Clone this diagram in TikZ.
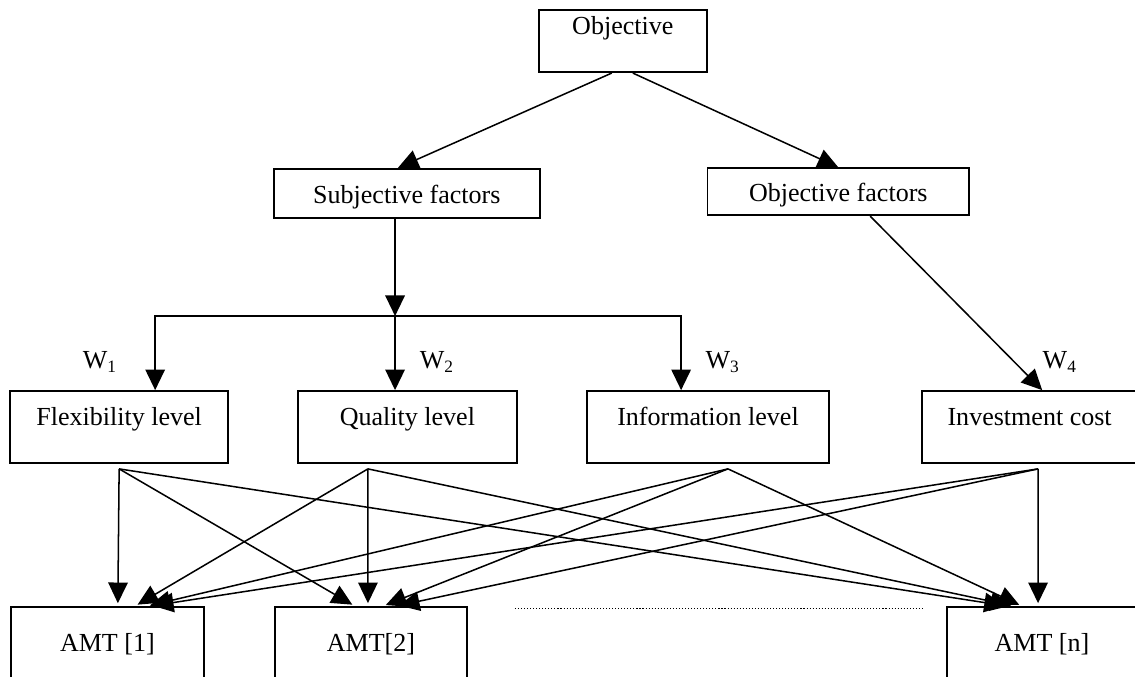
\documentclass[tikz,border=0pt]{standalone}
\usepackage{fontspec}
\setmainfont{Liberation Serif}
\usetikzlibrary{arrows.meta}

\begin{document}
\begin{tikzpicture}[
        >={Triangle[length=9.5pt, width=9pt]},
        box/.style={draw, line width=0.8pt, anchor=north, inner ysep=0pt,
                    font=\fontsize{12}{14}\selectfont},
        lvl/.style={box, text height=16.1pt, text depth=17.1pt},
        amt/.style={box, text height=20.3pt, text depth=23pt},
        wgt/.style={font=\fontsize{12}{14}\selectfont},
        arr/.style={->, line width=0.7pt},
        fan/.style={->, line width=0.7pt, shorten >=1.4pt},
        dots/.style={line width=0.5pt, dash pattern=on 0.5pt off 0.9pt}
      ]
        \useasboundingbox (0,0) rectangle (18.387,-10.967);

        \node[box, minimum width=2.72cm, text height=11.1pt, text depth=17.5pt]
          (objective) at (10.09,-0.15) {Objective};
        \node[box, minimum width=4.31cm, text height=16.1pt, text depth=6.5pt]
          (subjective) at (6.59,-2.72) {Subjective factors};
        \node[box, minimum width=4.24cm, text height=15.2pt, text depth=6.5pt]
          (objfactors) at (13.58,-2.71) {Objective factors};

        \node[lvl, minimum width=3.53cm] (flex) at (1.93,-6.32) {Flexibility level};
        \node[lvl, minimum width=3.55cm] (quality) at (6.60,-6.32) {Quality level};
        \node[lvl, minimum width=3.92cm] (info) at (11.47,-6.32) {Information level};
        \node[lvl, minimum width=3.48cm] (invest) at (16.68,-6.32) {Investment cost};

        \node[amt, minimum width=3.13cm] (amt1) at (1.74,-9.82) {AMT [1]};
        \node[amt, minimum width=3.11cm] (amt2) at (6.01,-9.82) {AMT[2]};
        \node[amt, minimum width=3.08cm] (amtn) at (16.88,-9.82) {AMT [n]};

        \node[wgt] (w1) at (1.62,-5.86) {W\textsubscript{1}};
        \node[wgt] (w2) at (7.08,-5.86) {W\textsubscript{2}};
        \node[wgt] (w3) at (11.71,-5.86) {W\textsubscript{3}};
        \node[wgt] (w4) at (17.17,-5.86) {W\textsubscript{4}};

        \draw[arr] ([xshift=-5.1pt]objective.south) -- ([xshift=-4.1pt]subjective.north);
        \draw[arr] ([xshift=4.6pt]objective.south) -- (objfactors.north);

        \coordinate (bus) at (6.40,-5.12);
        \draw[arr] (subjective.south -| bus) -- (bus);
        \draw[arr] (bus) -| ([xshift=16.6pt]flex.north);
        \draw[arr] (bus) -- (bus |- quality.north);
        \draw[arr] (bus) -| ([xshift=-12.4pt]info.north);
        \draw[arr] ([xshift=14.7pt]objfactors.south) -- ([xshift=5.8pt]invest.north);

        \coordinate (flexout) at ([yshift=-2.3pt]flex.south);
        \coordinate (qualout) at ([xshift=-18.2pt,yshift=-2.3pt]quality.south);
        \coordinate (infoout) at ([xshift=9.2pt,yshift=-2.3pt]info.south);
        \coordinate (investout) at ([xshift=3.9pt,yshift=-2.3pt]invest.south);

        \draw[fan] (flexout) -- ([xshift=4.8pt]amt1.north);
        \draw[fan] (flexout) -- ([xshift=-7.4pt]amt2.north);
        \draw[fan] (flexout) -- ([xshift=-15.7pt]amtn.north);
        \draw[fan] (qualout) -- ([xshift=12.7pt]amt1.north);
        \draw[fan] (qualout) -- ([xshift=-1.4pt]amt2.north);
        \draw[fan] (qualout) -- ([xshift=-12.9pt]amtn.north);
        \draw[fan] (infoout) -- ([xshift=18.2pt]amt1.north);
        \draw[fan] (infoout) -- ([xshift=5.5pt]amt2.north);
        \draw[fan] (infoout) -- ([xshift=-9.2pt]amtn.north);
        \draw[fan] (investout) -- ([xshift=19.6pt]amt1.north);
        \draw[fan] (investout) -- ([xshift=11.5pt]amt2.north);
        \draw[fan] (investout) -- ([xshift=-1.8pt]amtn.north);

        \draw[dots] ([xshift=21.7pt,yshift=-1pt]amt2.north east)
          -- ([xshift=-11pt,yshift=-1pt]amtn.north west);
      \end{tikzpicture}
\end{document}
